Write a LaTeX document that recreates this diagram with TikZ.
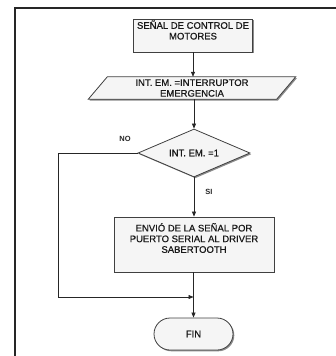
\documentclass[tikz,border=0pt]{standalone}
\usepackage{fontspec}
\setmainfont{Liberation Sans}
\newfontfamily\medfont{Liberation Sans}[FakeBold=0.7]
\usetikzlibrary{shapes.geometric,shadows,arrows.meta,backgrounds}
\begin{document}
\begin{tikzpicture}[x=1pt,y=-1pt,
  shapeline/.style={draw=black!75, line width=0.8pt, fill=black!4,
    drop shadow={shadow xshift=1.3pt, shadow yshift=-1.3pt, fill=black!45, opacity=1}},
  procbox/.style={shapeline, rectangle, inner sep=0pt},
  txt/.style={font=\medfont\fontsize{9.5}{10.7}\selectfont, align=center, inner sep=0pt, text=black!90},
  conn/.style={draw=black!85, line width=0.7pt},
  arr/.style={conn, -{Triangle[length=5pt,width=4pt]}},
  lbl/.style={font=\bfseries\fontsize{7.5}{9}\selectfont, inner sep=0pt, text=black!85}
]
\useasboundingbox (0,0) rectangle (336,356);
% frame
\draw[line width=1.8pt, black!85] (336,8) -- (15,8) -- (15,356);

% nodes
\node[procbox, minimum width=119pt, minimum height=33pt,
  label={[txt, yshift=5.5pt]center:SEÑAL DE CONTROL DE\\MOTORES}] (b1) at (193,35.5) {};
\node[txt, rectangle, minimum width=188pt, minimum height=22pt] (p1) at (192,88)
  {INT. EM. =INTERRUPTOR\\EMERGENCIA};
\begin{scope}[on background layer]
  \path[shapeline] ([xshift=9.5pt]p1.north west) -- ([xshift=9.5pt]p1.north east)
    -- ([xshift=-9.5pt]p1.south east) -- ([xshift=-9.5pt]p1.south west) -- cycle;
\end{scope}
\node[shapeline, diamond, txt, minimum width=112pt, minimum height=48pt, aspect=2.33] (d1) at (194,153) {INT. EM. =1};
\node[procbox, minimum width=160pt, minimum height=55pt,
  label={[txt, yshift=6.5pt]center:ENVIÓ DE LA SEÑAL POR\\PUERTO SERIAL AL DRIVER\\SABERTOOTH}] (b2) at (194,244.5) {};
\node[shapeline, txt, rectangle, rounded corners=16pt, minimum width=79pt, minimum height=32pt] (fin) at (193.5,334) {FIN};

\node[lbl] (no) at (125,139) {NO};
\node[lbl] (si) at (209,192) {SI};

\coordinate (j) at (193.5,297);
\coordinate (corner) at (58,297);

% connectors
\draw[arr] (b1.south) -- (b1.south |- p1.north);
\draw[arr] (p1.south -| d1.north) -- (d1.north);
\draw[arr] (d1.south) -- (b2.north);
\draw[arr] (b2.south -| fin.north) -- (fin.north);
\draw[arr] (d1.west) -| (corner) -- (j);
\end{tikzpicture}
\end{document}
